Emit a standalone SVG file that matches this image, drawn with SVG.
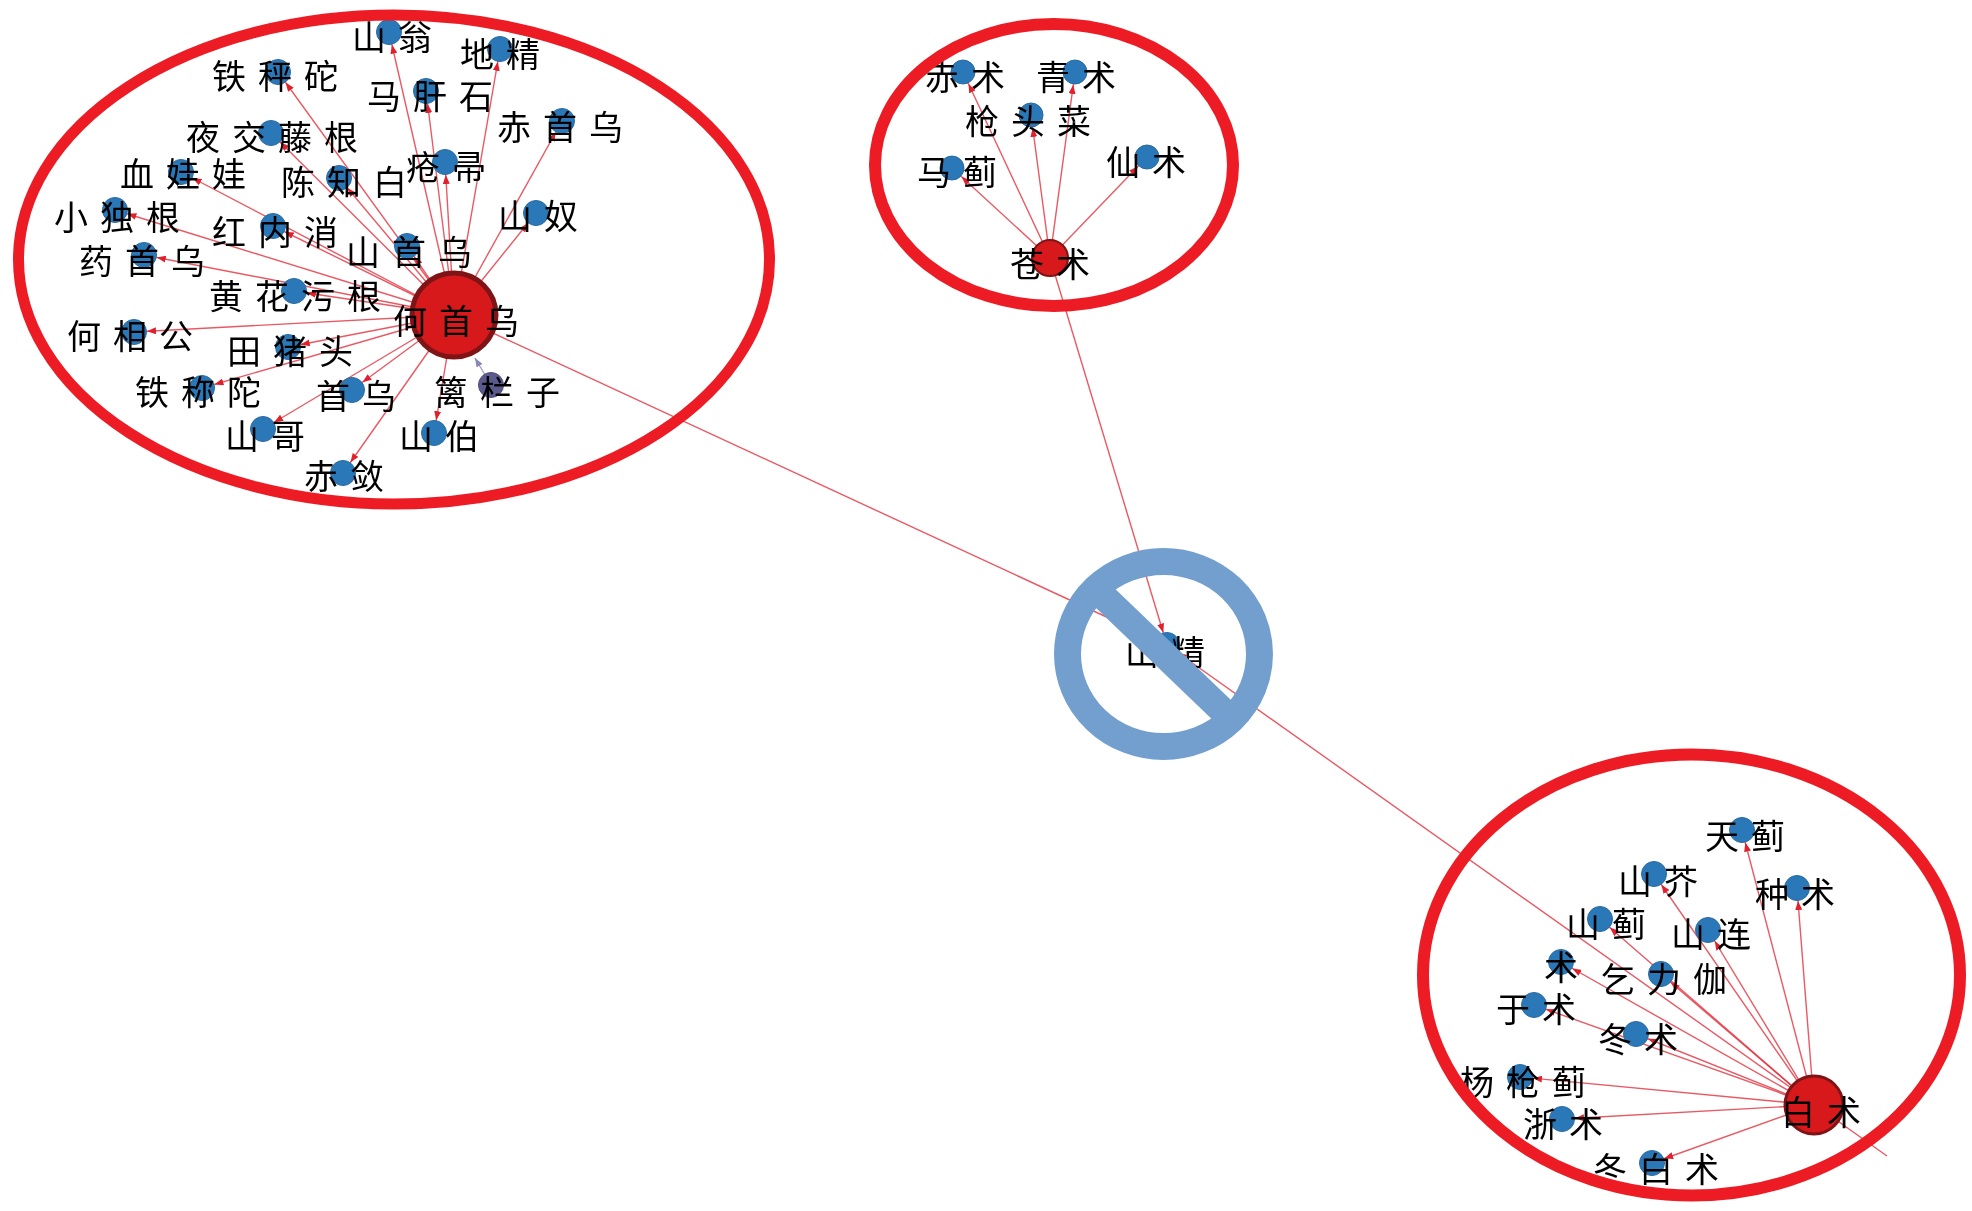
<svg xmlns="http://www.w3.org/2000/svg" width="1972" height="1211" viewBox="0 0 1972 1211">
<style>
text{font-family:"Noto Sans CJK SC","Noto Sans CJK TC",sans-serif;font-size:34px;letter-spacing:12px;fill:#000;filter:url(#soft)}
.n{fill:#2b78b8;stroke:#2a6aa0;stroke-width:1}
.m{fill:#d7191c;stroke:#7f1416}
.p{fill:#5b5a8f;stroke:#4e4d7a;stroke-width:1}
#connectors line{stroke:#e2303c;stroke-width:1.4;stroke-opacity:.8;marker-end:url(#arrow)}
#connectors line.back{stroke:#8a88b8;marker-end:url(#arrowb)}
.ring{fill:none;stroke:#ed1c24}
</style>
<defs>
<filter id="soft" filterUnits="userSpaceOnUse" x="0" y="0" width="1972" height="1211"><feGaussianBlur stdDeviation="0.6"/></filter>
<marker id="arrow" markerUnits="userSpaceOnUse" markerWidth="9" markerHeight="7" refX="22" refY="3.5" orient="auto"><path d="M0,0L9,3.5L0,7z" fill="#e2202c"/></marker>
<marker id="arrowb" markerUnits="userSpaceOnUse" markerWidth="9" markerHeight="7" refX="9" refY="3.5" orient="auto"><path d="M0,0L9,3.5L0,7z" fill="#8a88b8"/></marker>
</defs>
<rect width="1972" height="1211" fill="#fff"/>
<g id="connectors">
<line x1="454" y1="315" x2="389" y2="32"/>
<line x1="454" y1="315" x2="500" y2="49"/>
<line x1="454" y1="315" x2="278" y2="72"/>
<line x1="454" y1="315" x2="426" y2="91"/>
<line x1="454" y1="315" x2="562" y2="121"/>
<line x1="454" y1="315" x2="271" y2="133"/>
<line x1="454" y1="315" x2="181" y2="172"/>
<line x1="454" y1="315" x2="339" y2="178"/>
<line x1="454" y1="315" x2="445" y2="162"/>
<line x1="454" y1="315" x2="536" y2="213"/>
<line x1="454" y1="315" x2="115" y2="210"/>
<line x1="454" y1="315" x2="273" y2="226"/>
<line x1="454" y1="315" x2="407" y2="246"/>
<line x1="454" y1="315" x2="144" y2="255"/>
<line x1="454" y1="315" x2="294" y2="291"/>
<line x1="454" y1="315" x2="134" y2="332"/>
<line x1="454" y1="315" x2="288" y2="347"/>
<line x1="454" y1="315" x2="202" y2="388"/>
<line x1="454" y1="315" x2="352" y2="390"/>
<line class="back" x1="491" y1="385" x2="475" y2="358"/>
<line x1="454" y1="315" x2="263" y2="429"/>
<line x1="454" y1="315" x2="434" y2="433"/>
<line x1="454" y1="315" x2="343" y2="473"/>
<line x1="454" y1="315" x2="1167" y2="645"/>
<line x1="1050" y1="258" x2="963" y2="72"/>
<line x1="1050" y1="258" x2="1075" y2="72"/>
<line x1="1050" y1="258" x2="1031" y2="115"/>
<line x1="1050" y1="258" x2="952" y2="168"/>
<line x1="1050" y1="258" x2="1147" y2="157"/>
<line x1="1050" y1="258" x2="1167" y2="645"/>
<line x1="1887" y1="1156" x2="1167" y2="645"/>
<line x1="1814" y1="1105" x2="1742" y2="830"/>
<line x1="1814" y1="1105" x2="1654" y2="874"/>
<line x1="1814" y1="1105" x2="1797" y2="888"/>
<line x1="1814" y1="1105" x2="1600" y2="919"/>
<line x1="1814" y1="1105" x2="1708" y2="930"/>
<line x1="1814" y1="1105" x2="1561" y2="962"/>
<line x1="1814" y1="1105" x2="1661" y2="974"/>
<line x1="1814" y1="1105" x2="1534" y2="1005"/>
<line x1="1814" y1="1105" x2="1636" y2="1034"/>
<line x1="1814" y1="1105" x2="1520" y2="1077"/>
<line x1="1814" y1="1105" x2="1562" y2="1119"/>
<line x1="1814" y1="1105" x2="1652" y2="1163"/>
</g>
<g id="n01"><circle class="n" cx="389" cy="32" r="12.5"/><text x="352" y="50">山翁</text></g>
<g id="n02"><circle class="n" cx="500" cy="49" r="12.5"/><text x="460" y="67">地精</text></g>
<g id="n03"><circle class="n" cx="278" cy="72" r="12.5"/><text x="212" y="89">铁秤砣</text></g>
<g id="n04"><circle class="n" cx="426" cy="91" r="12.5"/><text x="367" y="109">马肝石</text></g>
<g id="n05"><circle class="n" cx="562" cy="121" r="12.5"/><text x="497" y="140">赤首乌</text></g>
<g id="n06"><circle class="n" cx="271" cy="133" r="12.5"/><text x="186" y="150">夜交藤根</text></g>
<g id="n07"><circle class="n" cx="181" cy="172" r="12.5"/><text x="120" y="187">血娃娃</text></g>
<g id="n08"><circle class="n" cx="339" cy="178" r="12.5"/><text x="281" y="195">陈知白</text></g>
<g id="n09"><circle class="n" cx="445" cy="162" r="12.5"/><text x="406" y="180">疮帚</text></g>
<g id="n10"><circle class="n" cx="536" cy="213" r="12.5"/><text x="498" y="229">山奴</text></g>
<g id="n11"><circle class="n" cx="115" cy="210" r="12.5"/><text x="54" y="230">小独根</text></g>
<g id="n12"><circle class="n" cx="273" cy="226" r="12.5"/><text x="212" y="245">红内消</text></g>
<g id="n13"><circle class="n" cx="407" cy="246" r="12.5"/><text x="346" y="265">山首乌</text></g>
<g id="n14"><circle class="n" cx="144" cy="255" r="12.5"/><text x="79" y="274">药首乌</text></g>
<g id="n15"><circle class="n" cx="294" cy="291" r="12.5"/><text x="209" y="309">黄花污根</text></g>
<g id="n16"><circle class="n" cx="134" cy="332" r="12.5"/><text x="67" y="349">何相公</text></g>
<g id="n17"><circle class="n" cx="288" cy="347" r="12.5"/><text x="227" y="364">田猪头</text></g>
<g id="n18"><circle class="n" cx="202" cy="388" r="12.5"/><text x="135" y="405">铁称陀</text></g>
<g id="n19"><circle class="n" cx="352" cy="390" r="12.5"/><text x="316" y="409">首乌</text></g>
<g id="n20"><circle class="p" cx="491" cy="385" r="12.5"/><text x="434" y="405">篱栏子</text></g>
<g id="n21"><circle class="n" cx="263" cy="429" r="12.5"/><text x="225" y="449">山哥</text></g>
<g id="n22"><circle class="n" cx="434" cy="433" r="12.5"/><text x="399" y="449">山伯</text></g>
<g id="n23"><circle class="n" cx="343" cy="473" r="12.5"/><text x="304" y="489">赤敛</text></g>
<g id="n24"><circle class="m" cx="454" cy="315" r="42" stroke-width="5"/><text x="393" y="334">何首乌</text></g>
<g id="n25"><circle class="n" cx="963" cy="72" r="12"/><text x="925" y="90">赤术</text></g>
<g id="n26"><circle class="n" cx="1075" cy="72" r="12"/><text x="1036" y="90">青术</text></g>
<g id="n27"><circle class="n" cx="1031" cy="115" r="12"/><text x="965" y="134">枪头菜</text></g>
<g id="n28"><circle class="n" cx="952" cy="168" r="12"/><text x="917" y="185">马蓟</text></g>
<g id="n29"><circle class="n" cx="1147" cy="157" r="12"/><text x="1106" y="175">仙术</text></g>
<g id="n30"><circle class="m" cx="1050" cy="258" r="18" stroke-width="2"/><text x="1010" y="277">苍术</text></g>
<g id="n31"><circle class="n" cx="1742" cy="830" r="12.5"/><text x="1705" y="849">天蓟</text></g>
<g id="n32"><circle class="n" cx="1654" cy="874" r="12.5"/><text x="1618" y="894">山芥</text></g>
<g id="n33"><circle class="n" cx="1797" cy="888" r="12.5"/><text x="1755" y="907">种术</text></g>
<g id="n34"><circle class="n" cx="1600" cy="919" r="12.5"/><text x="1566" y="937">山蓟</text></g>
<g id="n35"><circle class="n" cx="1708" cy="930" r="12.5"/><text x="1671" y="947">山连</text></g>
<g id="n36"><circle class="n" cx="1561" cy="962" r="12.5"/><text x="1544" y="980">术</text></g>
<g id="n37"><circle class="n" cx="1661" cy="974" r="12.5"/><text x="1601" y="992">乞力伽</text></g>
<g id="n38"><circle class="n" cx="1534" cy="1005" r="12.5"/><text x="1496" y="1022">于术</text></g>
<g id="n39"><circle class="n" cx="1636" cy="1034" r="12.5"/><text x="1598" y="1052">冬术</text></g>
<g id="n40"><circle class="n" cx="1520" cy="1077" r="12.5"/><text x="1460" y="1095">杨枪蓟</text></g>
<g id="n41"><circle class="n" cx="1562" cy="1119" r="12.5"/><text x="1523" y="1137">浙术</text></g>
<g id="n42"><circle class="n" cx="1652" cy="1163" r="12.5"/><text x="1593" y="1182">冬白术</text></g>
<g id="n43"><circle class="m" cx="1814" cy="1105" r="29" stroke-width="3"/><text x="1781" y="1125">白术</text></g>
<g id="n44"><circle class="n" cx="1167" cy="645" r="12.5"/><text x="1125" y="665">山精</text></g>
<ellipse class="ring" cx="394" cy="259.5" rx="375.5" ry="244.5" stroke-width="11"/>
<ellipse class="ring" cx="1054" cy="165" rx="179" ry="141" stroke-width="12"/>
<ellipse class="ring" cx="1691.5" cy="975" rx="268.5" ry="220.5" stroke-width="12"/>
<g id="prohibit" fill="none" stroke="#739fcf" stroke-width="27">
<ellipse cx="1163.5" cy="654" rx="96" ry="92.5"/>
<line x1="1102" y1="595" x2="1225" y2="713"/>
</g>
</svg>
